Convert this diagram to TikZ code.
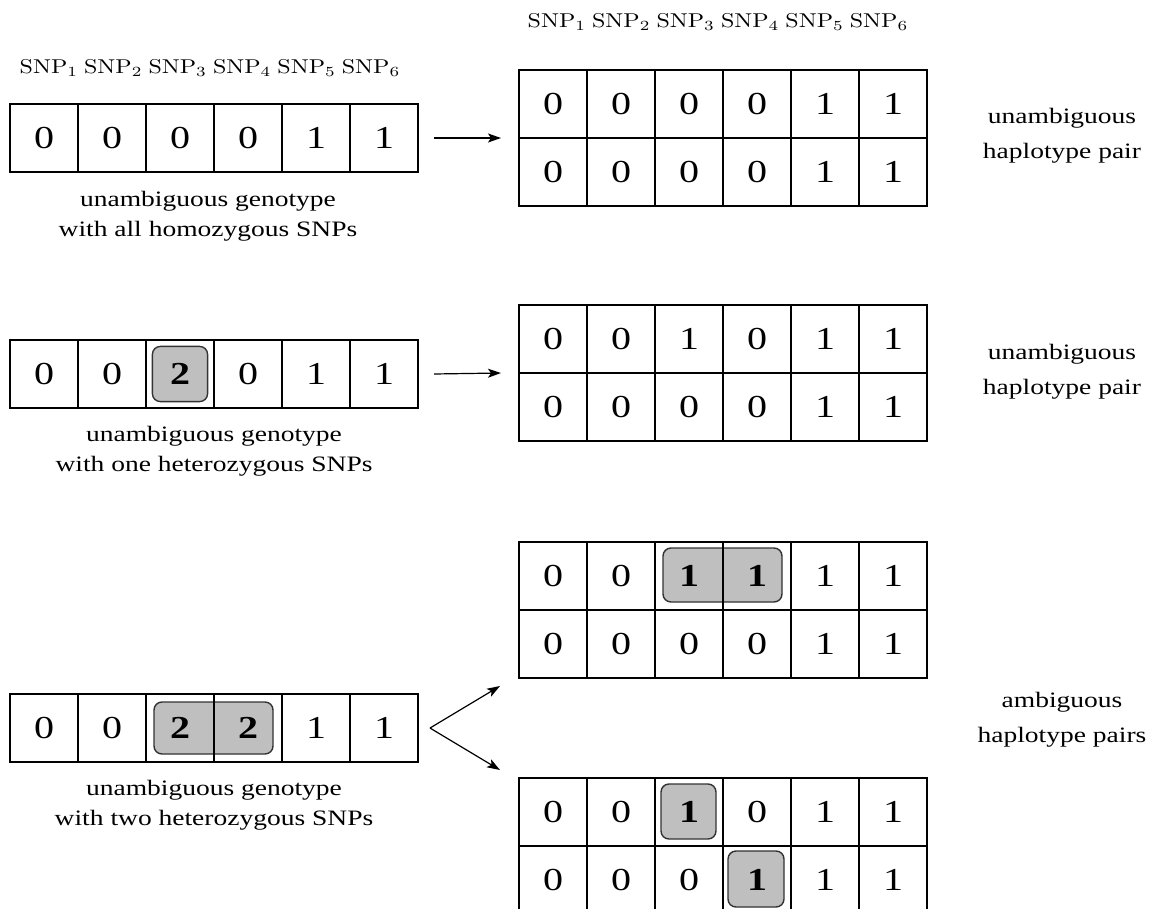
\documentclass[tikz,border=0pt]{standalone}
\usepackage[no-math]{fontspec}
\usepackage{graphicx}
\setmainfont{Liberation Serif}
\usetikzlibrary{arrows.meta,backgrounds}

% text in this figure is set wide: 1.25 times its natural width
\newcommand\wide[1]{\scalebox{1.25}[1]{#1}}

\tikzset{
  cell/.style={draw, line width=1pt, minimum width=34pt, minimum height=34pt,
    inner sep=0pt, outer sep=0pt, font=\fontsize{16}{17}\selectfont},
  hetbox/.style={fill=black!25, draw=black!80, line width=0.7pt, rounded corners=4pt},
  arr/.style={line width=0.6pt, -{Stealth[length=6.5pt,width=4.5pt,inset=1.5pt]}},
  widetext/.style={xscale=1.25, transform shape},
  caption/.style={widetext, align=center, font=\fontsize{11}{15}\selectfont},
  rlabel/.style={widetext, align=center, font=\fontsize{11}{17.5}\selectfont},
  snps/.style={xscale=1.2, transform shape, font=\fontsize{10}{12}\selectfont}
}

% a row of six SNP cells: name prefix, left edge, top edge, values
\newcommand\cellrow[4]{%
  \foreach \v [count=\i] in {#4} {
    \node[cell] (#1-\i) at ({#2+34+68*(\i-1)}, {#3+34}) {\wide{\v}};
  }%
}
\newcommand\snplist{$\mathrm{SNP}_1$ $\mathrm{SNP}_2$ $\mathrm{SNP}_3$ $\mathrm{SNP}_4$ $\mathrm{SNP}_5$ $\mathrm{SNP}_6$}

\begin{document}
\begin{tikzpicture}[x=0.5pt, y=-0.5pt]
  \clip (0,0) rectangle (1150,909);

  % column headers
  \node[snps] (hdrL) at (210,68) {\snplist};
  \node[snps] (hdrR) at (718,22) {\snplist};

  % genotypes
  \cellrow{g1}{10}{104}{0,0,0,0,1,1}
  \cellrow{g2}{10}{340}{0,0,\textbf{2},0,1,1}
  \cellrow{g3}{10}{694}{0,0,\textbf{2},\textbf{2},1,1}

  % haplotype pairs
  \cellrow{h1t}{519}{70}{0,0,0,0,1,1}
  \cellrow{h1b}{519}{138}{0,0,0,0,1,1}
  \cellrow{h2t}{519}{305}{0,0,1,0,1,1}
  \cellrow{h2b}{519}{373}{0,0,0,0,1,1}
  \cellrow{h3t}{519}{542}{0,0,\textbf{1},\textbf{1},1,1}
  \cellrow{h3b}{519}{610}{0,0,0,0,1,1}
  \cellrow{h4t}{519}{778}{0,0,\textbf{1},0,1,1}
  \cellrow{h4b}{519}{846}{0,0,0,\textbf{1},1,1}

  % highlighted heterozygous sites
  \begin{scope}[on background layer]
    \draw[hetbox] ([shift={(3.2pt,3.2pt)}]g2-3.south west) rectangle ([shift={(-3.2pt,-3.2pt)}]g2-3.north east);
    \draw[hetbox] ([shift={(4pt,4pt)}]g3-3.south west) rectangle ([shift={(-4.5pt,-4pt)}]g3-4.north east);
    \draw[hetbox] ([shift={(4pt,4pt)}]h3t-3.south west) rectangle ([shift={(-4.5pt,-3pt)}]h3t-4.north east);
    \draw[hetbox] ([shift={(3pt,3.5pt)}]h4t-3.south west) rectangle ([shift={(-3.5pt,-3pt)}]h4t-3.north east);
    \draw[hetbox] ([shift={(2.5pt,3.5pt)}]h4b-4.south west) rectangle ([shift={(-3.5pt,-2.5pt)}]h4b-4.north east);
  \end{scope}

  % captions
  \node[caption] (c1) at (208,216) {unambiguous genotype\\with all homozygous SNPs};
  \node[caption] (c2) at (214,451) {unambiguous genotype\\with one heterozygous SNPs};
  \node[caption] (c3) at (214,805) {unambiguous genotype\\with two heterozygous SNPs};

  \node[rlabel] (r1) at (1062,136) {unambiguous\\haplotype pair};
  \node[rlabel] (r2) at (1062,372) {unambiguous\\haplotype pair};
  \node[rlabel] (r3) at (1062,720) {ambiguous\\haplotype pairs};

  % connectors
  \draw[arr] ([xshift=8pt]g1-6.east) -- ([xshift=-9pt]h1b-1.north west);
  \draw[arr] ([xshift=8pt]g2-6.east) -- ([xshift=-9pt]h2b-1.north west);
  \coordinate (fork) at ([xshift=6pt]g3-6.east);
  \draw[arr] (fork) -- ([shift={(-9.5pt,-4pt)}]h3b-1.south west);
  \draw[arr] (fork) -- ([shift={(-9.5pt,4pt)}]h4t-1.north west);
\end{tikzpicture}
\end{document}
